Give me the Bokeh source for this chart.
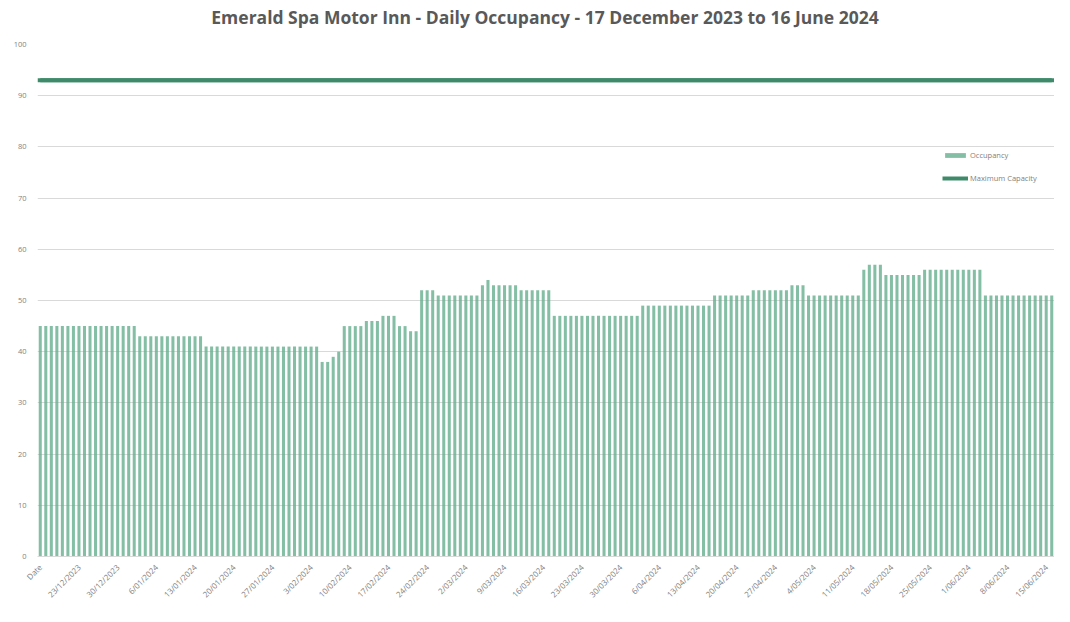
from datetime import date, timedelta

from bokeh.embed import file_html
from bokeh.resources import INLINE
from bokeh.plotting import figure
from bokeh.layouts import column
from bokeh.core.properties import value
from bokeh.models import (ColumnDataSource, FixedTicker, Range1d, Span,
                          Legend, LegendItem)

# ---------------- data ----------------
TITLE = "Emerald Spa Motor Inn - Daily Occupancy - 17 December 2023 to 16 June 2024"
FIRST_DAY = date(2023, 12, 17)
N_DAYS = 183
CATEGORIES = ["Date"] + [
    f"{d.day}/{d.month:02d}/{d.year}"
    for d in (FIRST_DAY + timedelta(days=i) for i in range(N_DAYS))
]

OCCUPANCY = [
    45, 45, 45, 45, 45, 45, 45, 45, 45, 45, 45, 45, 45, 45, 45, 45, 45, 45,
    43, 43, 43, 43, 43, 43, 43, 43, 43, 43, 43, 43,
    41, 41, 41, 41, 41, 41, 41, 41, 41, 41, 41, 41, 41, 41, 41, 41, 41, 41, 41, 41, 41,
    38, 38, 39, 40,
    45, 45, 45, 45,
    46, 46, 46,
    47, 47, 47,
    45, 45,
    44, 44,
    52, 52, 52,
    51, 51, 51, 51, 51, 51, 51, 51,
    53, 54,
    53, 53, 53, 53, 53,
    52, 52, 52, 52, 52, 52,
    47, 47, 47, 47, 47, 47, 47, 47, 47, 47, 47, 47, 47, 47, 47, 47,
    49, 49, 49, 49, 49, 49, 49, 49, 49, 49, 49, 49, 49,
    51, 51, 51, 51, 51, 51, 51,
    52, 52, 52, 52, 52, 52, 52,
    53, 53, 53,
    51, 51, 51, 51, 51, 51, 51, 51, 51, 51,
    56,
    57, 57, 57,
    55, 55, 55, 55, 55, 55, 55,
    56, 56, 56, 56, 56, 56, 56, 56, 56, 56, 56,
    51, 51, 51, 51, 51, 51, 51, 51, 51, 51, 51, 51, 51,
]
MAX_CAPACITY = 93
LABEL_EVERY = 7
Y_TICKS = [0, 10, 20, 30, 40, 50, 60, 70, 80, 90, 100]

# ---------------- styling ----------------
BAR_COLOR = "#62ad8c"
LINE_COLOR = "#3f8a6a"
GRID = "#d9d9d9"
TEXT = "#7f7f7f"
FONT = "Open Sans"
W = 1054
TITLE_H = 30
MAIN_H = 576

# ---------------- title strip ----------------
t = figure(width=W, height=TITLE_H, output_backend="svg", toolbar_location=None,
           x_range=Range1d(0, W), y_range=Range1d(0, TITLE_H),
           min_border=0, min_border_left=0, min_border_right=0,
           min_border_top=0, min_border_bottom=0)
t.axis.visible = False
t.grid.visible = False
t.outline_line_color = None
t.text(x=[526], y=[TITLE_H - 16], text=[TITLE], text_align="center",
       text_baseline="middle", text_font=value(FONT), text_font_size="17.5px",
       text_font_style="bold", text_color="#595959")

# ---------------- main chart ----------------
positions = list(range(len(CATEGORIES)))
capacity = [MAX_CAPACITY for _ in positions]
src = ColumnDataSource(dict(x=positions, y=OCCUPANCY, cap=capacity, cat=CATEGORIES))

p = figure(width=W, height=MAIN_H, output_backend="svg", toolbar_location=None,
           x_range=Range1d(-0.5, len(CATEGORIES) - 0.5),
           y_range=Range1d(Y_TICKS[0], Y_TICKS[-1]),
           min_border_left=37, min_border_right=0, min_border_top=14,
           min_border_bottom=10)

bars = p.vbar(x="x", top="y", width=0.55, source=src,
              fill_color=BAR_COLOR, line_color=None, fill_alpha=0.78)

cap_span = Span(location=MAX_CAPACITY, dimension="width",
                line_color=LINE_COLOR, line_width=4)
p.add_layout(cap_span)
cap_line = p.line(x="x", y="cap", source=src, line_color=LINE_COLOR, line_width=4)

legend = Legend(items=[LegendItem(label="Occupancy", renderers=[bars]),
                       LegendItem(label="Maximum Capacity", renderers=[cap_line])],
                location=(905, 373), border_line_color=None,
                background_fill_alpha=0, label_text_font=FONT,
                label_text_font_size="7.5px", label_text_color=TEXT,
                glyph_width=26, glyph_height=6, label_height=6,
                spacing=13, label_standoff=2, padding=0, margin=0)
p.add_layout(legend, "center")

tick_pos = positions[::LABEL_EVERY]
p.xaxis.ticker = FixedTicker(ticks=tick_pos)
p.xaxis.major_label_overrides = {i: CATEGORIES[i] for i in tick_pos}
p.xaxis.major_label_orientation = 0.785398
p.xaxis.major_label_text_font = FONT
p.xaxis.major_label_text_font_size = "8px"
p.xaxis.major_label_text_color = TEXT
p.xaxis.major_tick_line_color = None
p.xaxis.minor_tick_line_color = None
p.xaxis.axis_line_color = GRID
p.xaxis.major_label_standoff = 3

p.yaxis.ticker = FixedTicker(ticks=Y_TICKS)
p.yaxis.major_label_text_font = FONT
p.yaxis.major_label_text_font_size = "7.5px"
p.yaxis.major_label_text_color = TEXT
p.yaxis.major_tick_line_color = None
p.yaxis.minor_tick_line_color = None
p.yaxis.axis_line_color = None
p.yaxis.major_label_standoff = 5

p.xgrid.grid_line_color = None
p.ygrid.grid_line_color = GRID
p.ygrid.grid_line_width = 1
p.outline_line_color = None

layout = column(t, p, spacing=0)
open("out.html", "w").write(file_html(layout, INLINE))
